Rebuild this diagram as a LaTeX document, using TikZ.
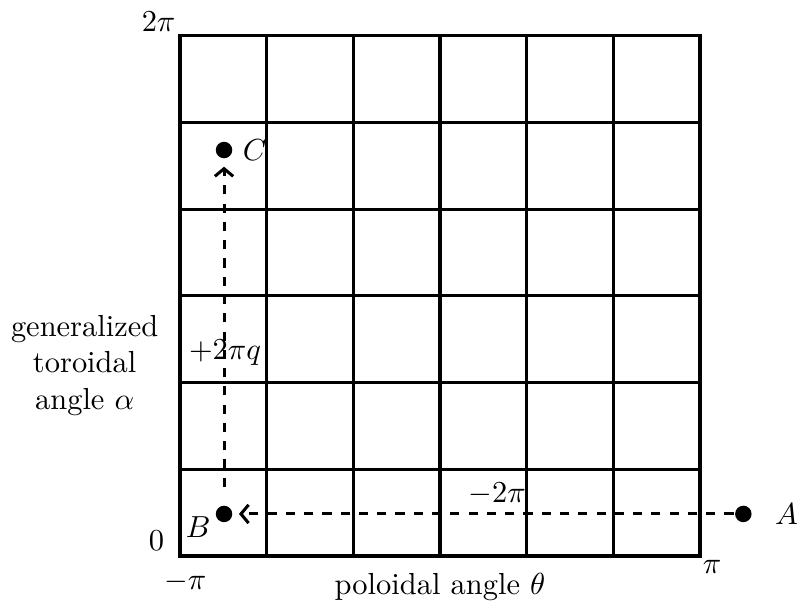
\documentclass[tikz,border=0pt]{standalone}
\usepackage{amsmath, amssymb, tikz}
\usetikzlibrary{positioning, arrows.meta}

\begin{document}
\begin{tikzpicture}[line width=1pt,
        dot/.style={circle,fill,inner sep=0pt,minimum size=0.19cm},
        anglemove/.style={dashed,-{Straight Barb[length=2.5pt,width=6pt]}}]
                \useasboundingbox (-2.077,-0.669) rectangle (7.269,6.415);
                \draw (0,0) -- (0,6) -- (6,6) -- (6,0) -- cycle;
                \draw (1,0) -- (1,6);
                \draw (2,0) -- (2,6);
                \draw (3,0) -- (3,6);
                \draw (4,0) -- (4,6);
                \draw (5,0) -- (5,6);
                \draw (0,1) -- (6,1);
                \draw (0,2) -- (6,2);
                \draw (0,3) -- (6,3);
                \draw (0,4) -- (6,4);
                \draw (0,5) -- (6,5);
                \node (twopi) at (0,6) [anchor=south east,inner sep=1pt] {$2\pi$};
                \node (zero) at (-0.27,0.18) {$0$};
                \node (minuspi) at (0.06,-0.3) {$-\pi$};
                \node (pi) at (6.14,-0.13) {$\pi$};
                \node (xlabel) at (3.0,-0.36) {poloidal angle $\theta$};
                \node[align=center] (ylabel) at (-1.1,2.2) {generalized\\toroidal\\angle $\alpha$};
                \node[dot,label={[label distance=0.12cm]right:$A$}] (A) at (6.5,0.485) {};
                \node[dot,label={[label distance=-0.09cm,yshift=-0.155cm]left:$B$}] (B) at (0.508,0.485) {};
                \node[dot,label={[label distance=-0.03cm]right:$C$}] (C) at (0.508,4.684) {};
                \draw[anglemove,shorten >=0.06cm] (A) -- (B);
                \draw[anglemove,shorten <=0.2cm,shorten >=0.08cm] (B) -- (C);
                \node (dtheta) at (3.66,0.72) {$-2\pi$};
                \node (dalpha) at (0.52,2.35) {$+2\pi q$};
            \end{tikzpicture}
\end{document}
